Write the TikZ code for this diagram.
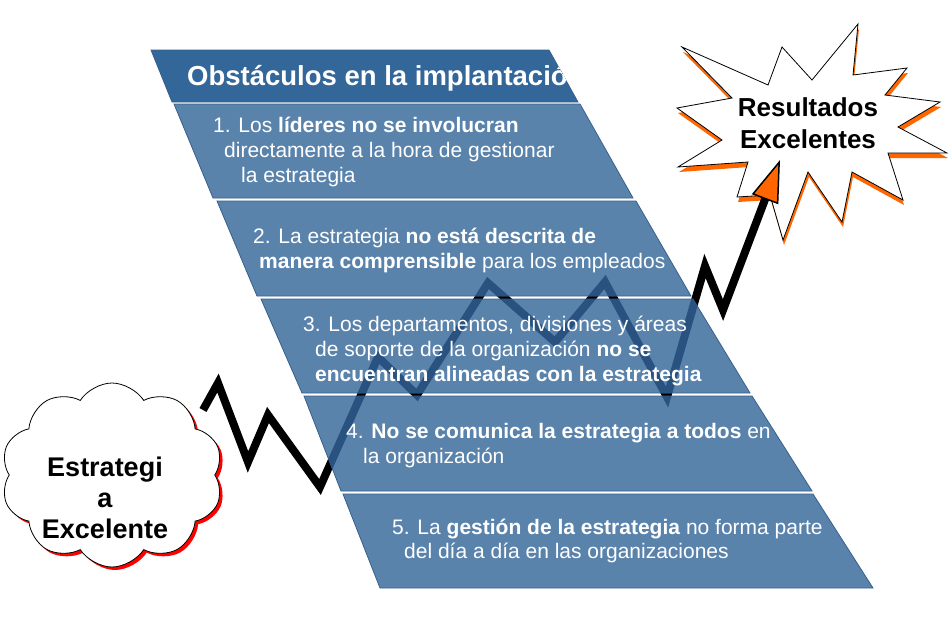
\documentclass[tikz,border=0pt]{standalone}
\usepackage{fontspec}
\setmainfont{Liberation Sans}
\usepackage{tikz}
\usepackage{tkz-euclide}
\usetikzlibrary{shapes.symbols,shadows,arrows.meta}

\definecolor{faixa}{RGB}{90,131,172}
\definecolor{cabecalho}{RGB}{51,102,153}
\definecolor{contorno}{RGB}{55,95,140}
\definecolor{escuro}{RGB}{41,82,128}
\definecolor{laranja}{RGB}{255,102,0}

%contorno da estrela dos resultados (x/y em pixels da figura)
\newcommand{\estrela}{(682,47) -- (768,85) -- (782,47) -- (812,80) -- (858,24) -- (853,75) -- (907,68) -- (885,95) -- (940,102) -- (898,127) -- (947,153) -- (888,153) -- (903,200) -- (852,172) -- (842,222) -- (808,172) -- (783,240) -- (770,195) -- (737,197) -- (748,162) -- (678,167) -- (722,140) -- (677,108) -- (732,98) -- cycle}

\begin{document}
\begin{tikzpicture}[x=1pt,y=-1pt,
  banda/.style={fill=faixa, draw=contorno, line width=0.8pt},
  item/.style={anchor=base west, inner sep=0pt, text=white, font=\fontsize{21}{24}\selectfont},
  titulo/.style={anchor=base west, inner sep=0pt, text=white, font=\bfseries\fontsize{27.5}{30}\selectfont},
  rotulo/.style={align=center, inner sep=0pt, text=black, font=\bfseries\fontsize{26}{32}\selectfont},
  ziguezague/.style={line width=8pt, line join=miter, miter limit=4},
  nuvem/.style={cloud, cloud puffs=10, cloud puff arc=115, cloud ignores aspect, draw=black, fill=white, line width=0.8pt, minimum width=222pt, minimum height=184pt, drop shadow={shadow xshift=3pt, shadow yshift=-3pt, fill=red, opacity=1}}] %y cresce para baixo, como na figura

\useasboundingbox (0,0) rectangle (948,622);

%O comando \tkzDefPoints define os cantos das faixas (x/y/NomedoPonto)
\tkzDefPoints{
151/50/HA, 549/50/HB, 578/102/HC, 172/102/HD,
174/104/UA, 580/104/UB, 633/198/UC, 213/198/UD,
217/201/DA, 636/201/DB, 691/296/DC, 257/296/DD,
261/299/TA, 693/299/TB, 750/393/TC, 302/393/TD,
304/396/QA, 752/396/QB, 812/491/QC, 341/491/QD,
343/494/CA, 813/494/CB, 873/588/CC, 380/588/CD}

%Pontos da linha em zigue-zague, da nuvem ate a estrela
\tkzDefPoints{
203/410/Z0, 218/383/Z1, 248/462/Z2, 268/415/Z3,
320/487/Z4, 378/357/Z5, 417/395/Z6, 488/283/Z7,
555/342/Z8, 605/282/Z9, 667/397/Z10, 705/266/Z11,
723/310/Z12, 780/160/Z13}

%Nuvem "Estrategia Excelente"
%---------------------------------------------------
\node[nuvem] (nuvem) at (112,475) {};
\node[rotulo, font=\bfseries\fontsize{27}{31}\selectfont] (estrategia) at (105,498) {Estrategi\\a\\Excelente};

%Estrela "Resultados Excelentes" com sombra laranja
%---------------------------------------------------
\fill[laranja, shift={(1,5)}] \estrela;
\draw[fill=white, line width=0.8pt] \estrela;
\node[rotulo] (resultados) at (808,123) {Resultados\\Excelentes};

%Linha em zigue-zague com a ponta laranja
%---------------------------------------------------
\draw[ziguezague, -{Triangle[length=42pt,width=28pt,fill=laranja,line width=1.5pt]}] (Z0)--(Z1)--(Z2)--(Z3)--(Z4)--(Z5)--(Z6)--(Z7)--(Z8)--(Z9)--(Z10)--(Z11)--(Z12)--(Z13);

%Faixas dos obstaculos
%---------------------------------------------------
\draw[banda, fill=cabecalho] (HA)--(HB)--(HC)--(HD)--cycle;
\draw[banda] (UA)--(UB)--(UC)--(UD)--cycle;
\draw[banda] (DA)--(DB)--(DC)--(DD)--cycle;
\draw[banda] (TA)--(TB)--(TC)--(TD)--cycle;
\draw[banda] (QA)--(QB)--(QC)--(QD)--cycle;
\draw[banda] (CA)--(CB)--(CC)--(CD)--cycle;

%A linha aparece escura por dentro das faixas
%---------------------------------------------------
\begin{scope}
\clip (UA)--(UB)--(UC)--(UD)--cycle (DA)--(DB)--(DC)--(DD)--cycle (TA)--(TB)--(TC)--(TD)--cycle (QA)--(QB)--(QC)--(QD)--cycle (CA)--(CB)--(CC)--(CD)--cycle;
\draw[ziguezague, escuro] (Z0)--(Z1)--(Z2)--(Z3)--(Z4)--(Z5)--(Z6)--(Z7)--(Z8)--(Z9)--(Z10)--(Z11)--(Z12)--(Z13);
\end{scope}

%Titulo cortado na borda do cabecalho
%---------------------------------------------------
\begin{scope}
\clip (HA)--(HB)--(HC)--(HD)--cycle;
\node[titulo] (titulo) at (187,85) {Obstáculos en la implantación};
\end{scope}

%Textos das faixas
%---------------------------------------------------
\node[item] (um1) at (213,132) {1. Los \textbf{líderes no se involucran}};
\node[item] (um2) at (224,157) {directamente a la hora de gestionar};
\node[item] (um3) at (241,182) {la estrategia};

\node[item] (dois1) at (253,243) {2. La estrategia \textbf{no está descrita de}};
\node[item] (dois2) at (259,268) {\textbf{manera comprensible} para los empleados};

\node[item] (tres1) at (303,331) {3. Los departamentos, divisiones y áreas};
\node[item] (tres2) at (315,356) {de soporte de la organización \textbf{no se}};
\node[item] (tres3) at (315,381) {\textbf{encuentran alineadas con la estrategia}};

\node[item] (quatro1) at (346,438) {4. \textbf{No se comunica la estrategia a todos} en};
\node[item] (quatro2) at (363,463) {la organización};

\node[item] (cinco1) at (392,534) {5. La \textbf{gestión de la estrategia} no forma parte};
\node[item] (cinco2) at (404,558) {del día a día en las organizaciones};

\end{tikzpicture}
\end{document}
